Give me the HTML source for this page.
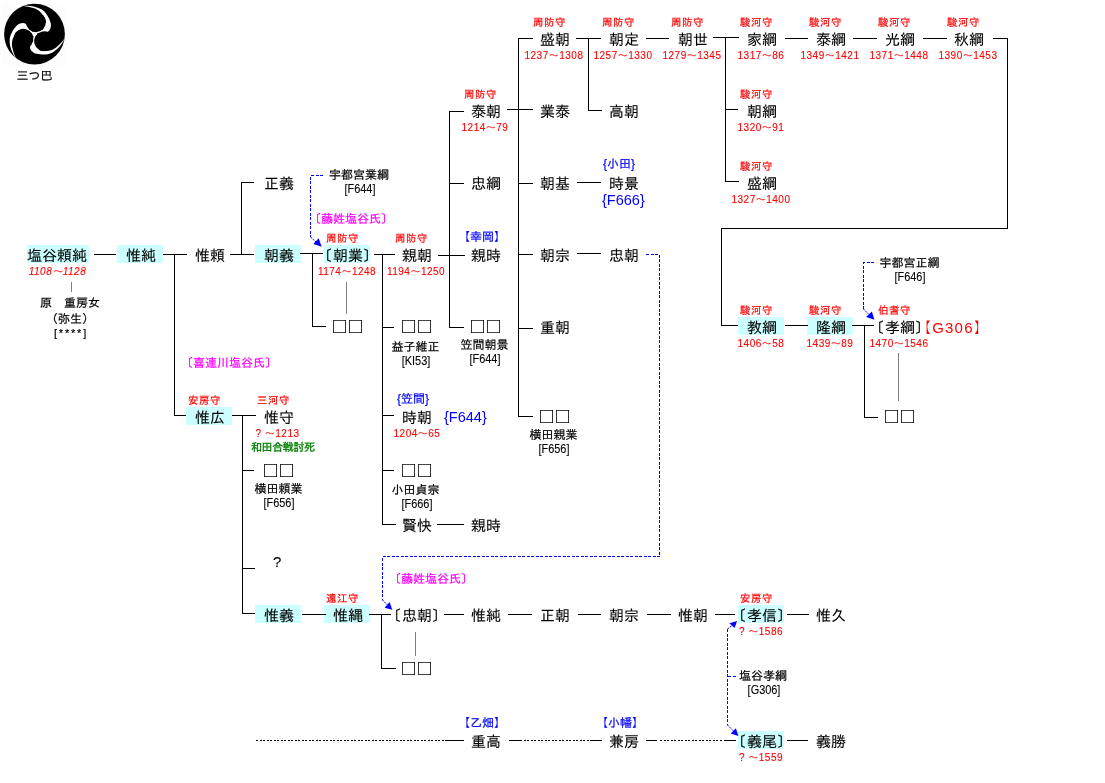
<!DOCTYPE html>
<html lang="ja"><head><meta charset="utf-8"><title>塩谷氏 系図</title>
<style>
html,body{margin:0;padding:0;background:#fff;}
body{width:1105px;height:783px;position:relative;overflow:hidden;font-family:"Liberation Sans","IPAGothic",sans-serif;}
#chart{position:absolute;left:0;top:0;width:1105px;height:783px;overflow:hidden;background:#fff;will-change:transform;}
.t{position:absolute;white-space:pre;color:#000;}
.c{width:200px;text-align:center;}
.s15{font-size:15px;line-height:15px;-webkit-text-stroke:0.1px currentColor;}
.s12{font-size:12px;line-height:12px;-webkit-text-stroke:0.2px currentColor;}
.s11{font-size:11px;line-height:11px;-webkit-text-stroke:0.2px currentColor;}
.s10{font-size:10px;line-height:11px;-webkit-text-stroke:0.1px currentColor;}
.d{letter-spacing:0.5px;}
.i{font-style:italic;}
.lb{font-size:10.4px;letter-spacing:0.6px;}
.gr{letter-spacing:-0.4px;-webkit-text-stroke:0.35px currentColor;}
.ast{letter-spacing:1.8px;}
.cd{font-size:13px;line-height:12px;transform:scaleX(0.84);-webkit-text-stroke:0.1px currentColor;}
.f{font-size:14.5px;-webkit-text-stroke:0;}
.g{letter-spacing:1.2px;-webkit-text-stroke:0;}
.bl{position:relative;left:-1px;}
.q{font-size:22px;line-height:22px;letter-spacing:2.7px;-webkit-text-stroke:0;}
.l{position:absolute;background:#000;}
.h{position:absolute;background:#cff;}
.k{position:absolute;height:0;border-top:1px dashed #000;}
.ov{position:absolute;left:0;top:0;}
</style></head>
<body>
<div id="chart">
<div class="h" style="left:27px;top:245px;width:62px;height:18px"></div>
<div class="h" style="left:117px;top:245px;width:46px;height:18px"></div>
<div class="h" style="left:255px;top:245px;width:46px;height:18px"></div>
<div class="h" style="left:324px;top:245px;width:46px;height:18px"></div>
<div class="h" style="left:738px;top:317px;width:46px;height:18px"></div>
<div class="h" style="left:807px;top:317px;width:46px;height:18px"></div>
<div class="h" style="left:186px;top:407px;width:46px;height:18px"></div>
<div class="h" style="left:255px;top:605px;width:46px;height:18px"></div>
<div class="h" style="left:324px;top:605px;width:46px;height:18px"></div>
<div class="h" style="left:738px;top:605px;width:46px;height:18px"></div>
<div class="h" style="left:738px;top:731px;width:46px;height:18px"></div>
<svg class="ov" style="left:3px;top:3px" width="64" height="64" viewBox="-31.5 -31.1 64 64">
<rect x="-31.5" y="-31.1" width="64" height="64" fill="#fdfdfd"/>
<circle cx="0" cy="0" r="30.4" fill="#000"/>
<g fill="#fff">
<circle cx="0" cy="0" r="2.6"/>
<path d="M-11.6 -28.2C-5 -29 2 -27.8 7.3 -24.5C11.2 -22 14.5 -16.6 16 -11.7C17 -8.4 16.2 -4.4 13.4 -2.4L0 0L8 -10L11.4 -11.9C11.4 -14.5 10.6 -16 9.4 -17.4C8 -19.6 6.7 -21.4 5.1 -22.8C3.3 -24.5 1 -25.5 -1.25 -26.2C-4.5 -27.2 -8 -27.9 -11.6 -28.2Z"/>
<path transform="rotate(120)" d="M-11.6 -28.2C-5 -29 2 -27.8 7.3 -24.5C11.2 -22 14.5 -16.6 16 -11.7C17 -8.4 16.2 -4.4 13.4 -2.4L0 0L8 -10L11.4 -11.9C11.4 -14.5 10.6 -16 9.4 -17.4C8 -19.6 6.7 -21.4 5.1 -22.8C3.3 -24.5 1 -25.5 -1.25 -26.2C-4.5 -27.2 -8 -27.9 -11.6 -28.2Z"/>
<path transform="rotate(240)" d="M-11.6 -28.2C-5 -29 2 -27.8 7.3 -24.5C11.2 -22 14.5 -16.6 16 -11.7C17 -8.4 16.2 -4.4 13.4 -2.4L0 0L8 -10L11.4 -11.9C11.4 -14.5 10.6 -16 9.4 -17.4C8 -19.6 6.7 -21.4 5.1 -22.8C3.3 -24.5 1 -25.5 -1.25 -26.2C-4.5 -27.2 -8 -27.9 -11.6 -28.2Z"/>
</g>
<g fill="#000">
<circle cx="1.45" cy="-11.8" r="9.9"/>
<circle cx="1.45" cy="-11.8" r="9.9" transform="rotate(120)"/>
<circle cx="1.45" cy="-11.8" r="9.9" transform="rotate(240)"/>
</g>
</svg>
<svg class="ov" width="1105" height="783" viewBox="0 0 1105 783">
<g fill="none" stroke="#000" stroke-width="1" stroke-dasharray="2 1.5" shape-rendering="crispEdges">
<path d="M256 740.5H447"/>
<path d="M520 740.5H590"/>
<path d="M660 740.5H722"/>
</g>
<g fill="none" stroke="#00f" stroke-width="1" stroke-dasharray="3 1.5" shape-rendering="crispEdges">
<path d="M323 175.5H310.5V237"/>
<path d="M874 262.5H863.5V309"/>
<path d="M646 254.5H659.5V556.5H382.5V600"/>
<path d="M727.5 629V725"/>
<path d="M728 676.5H736"/>
</g>
<g fill="none" stroke="#00f" stroke-width="1" stroke-dasharray="2 1">
<path d="M310.5 237L316 242"/>
<path d="M863.5 309L869 314.5"/>
<path d="M382.5 600L387.5 605"/>
<path d="M727.5 629L732 625.5"/>
<path d="M727.5 725L733.5 731"/>
</g>
<g fill="#00f">
<path d="M321.7 246.7L313.4 243.9L318.6 238.3Z"/>
<path d="M874.4 319.7L866.1 317.1L871.9 311.4Z"/>
<path d="M392.3 609.7L384.6 607.7L389.6 602.1Z"/>
<path d="M737.1 621.1L729.4 623.3L734.6 628Z"/>
<path d="M738.4 736L730.7 733.6L735.9 728.3Z"/>
</g>
</svg>
<div class="l" style="left:518px;top:38px;width:15px;height:1px;"></div>
<div class="l" style="left:576px;top:38px;width:25px;height:1px;"></div>
<div class="l" style="left:646px;top:38px;width:23px;height:1px;"></div>
<div class="l" style="left:713px;top:37px;width:26px;height:1px;"></div>
<div class="l" style="left:785px;top:38px;width:23px;height:1px;"></div>
<div class="l" style="left:853px;top:38px;width:24px;height:1px;"></div>
<div class="l" style="left:923px;top:38px;width:24px;height:1px;"></div>
<div class="l" style="left:993px;top:38px;width:15px;height:1px;"></div>
<div class="l" style="left:1007px;top:38px;width:1px;height:191px;"></div>
<div class="l" style="left:721px;top:228px;width:287px;height:1px;"></div>
<div class="l" style="left:721px;top:228px;width:1px;height:98px;"></div>
<div class="l" style="left:721px;top:325px;width:17px;height:1px;"></div>
<div class="l" style="left:449px;top:111px;width:15px;height:1px;"></div>
<div class="l" style="left:507px;top:109px;width:26px;height:1px;"></div>
<div class="l" style="left:588px;top:110px;width:14px;height:1px;"></div>
<div class="l" style="left:725px;top:109px;width:13px;height:1px;"></div>
<div class="l" style="left:241px;top:182px;width:13px;height:1px;"></div>
<div class="l" style="left:449px;top:183px;width:15px;height:1px;"></div>
<div class="l" style="left:518px;top:183px;width:15px;height:1px;"></div>
<div class="l" style="left:577px;top:182px;width:24px;height:1px;"></div>
<div class="l" style="left:725px;top:181px;width:14px;height:1px;"></div>
<div class="l" style="left:94px;top:254px;width:22px;height:1px;"></div>
<div class="l" style="left:163px;top:254px;width:24px;height:1px;"></div>
<div class="l" style="left:230px;top:254px;width:24px;height:1px;"></div>
<div class="l" style="left:300px;top:253px;width:23px;height:1px;"></div>
<div class="l" style="left:374px;top:254px;width:21px;height:1px;"></div>
<div class="l" style="left:438px;top:255px;width:27px;height:1px;"></div>
<div class="l" style="left:518px;top:254px;width:15px;height:1px;"></div>
<div class="l" style="left:577px;top:253px;width:24px;height:1px;"></div>
<div class="l" style="left:312px;top:326px;width:14px;height:1px;"></div>
<div class="l" style="left:382px;top:327px;width:12px;height:1px;"></div>
<div class="l" style="left:449px;top:327px;width:15px;height:1px;"></div>
<div class="l" style="left:518px;top:328px;width:15px;height:1px;"></div>
<div class="l" style="left:785px;top:325px;width:23px;height:1px;"></div>
<div class="l" style="left:852px;top:325px;width:22px;height:1px;"></div>
<div class="l" style="left:174px;top:415px;width:12px;height:1px;"></div>
<div class="l" style="left:232px;top:415px;width:24px;height:1px;"></div>
<div class="l" style="left:382px;top:415px;width:12px;height:1px;"></div>
<div class="l" style="left:518px;top:416px;width:15px;height:1px;"></div>
<div class="l" style="left:864px;top:417px;width:14px;height:1px;"></div>
<div class="l" style="left:242px;top:470px;width:12px;height:1px;"></div>
<div class="l" style="left:382px;top:470px;width:12px;height:1px;"></div>
<div class="l" style="left:382px;top:524px;width:14px;height:1px;"></div>
<div class="l" style="left:437px;top:524px;width:27px;height:1px;"></div>
<div class="l" style="left:242px;top:568px;width:13px;height:1px;"></div>
<div class="l" style="left:242px;top:613px;width:13px;height:1px;"></div>
<div class="l" style="left:302px;top:614px;width:24px;height:1px;"></div>
<div class="l" style="left:369px;top:614px;width:22px;height:1px;"></div>
<div class="l" style="left:444px;top:614px;width:20px;height:1px;"></div>
<div class="l" style="left:508px;top:614px;width:24px;height:1px;"></div>
<div class="l" style="left:578px;top:614px;width:23px;height:1px;"></div>
<div class="l" style="left:647px;top:614px;width:24px;height:1px;"></div>
<div class="l" style="left:715px;top:614px;width:20px;height:1px;"></div>
<div class="l" style="left:787px;top:614px;width:22px;height:1px;"></div>
<div class="l" style="left:381px;top:668px;width:15px;height:1px;"></div>
<div class="l" style="left:447px;top:740px;width:17px;height:1px;"></div>
<div class="l" style="left:509px;top:740px;width:11px;height:1px;"></div>
<div class="l" style="left:590px;top:740px;width:12px;height:1px;"></div>
<div class="l" style="left:646px;top:740px;width:11px;height:1px;"></div>
<div class="l" style="left:724px;top:740px;width:12px;height:1px;"></div>
<div class="l" style="left:787px;top:740px;width:21px;height:1px;"></div>
<div class="l" style="left:174px;top:254px;width:1px;height:162px;"></div>
<div class="l" style="left:241px;top:182px;width:1px;height:73px;"></div>
<div class="l" style="left:242px;top:415px;width:1px;height:199px;"></div>
<div class="l" style="left:312px;top:253px;width:1px;height:74px;"></div>
<div class="l" style="left:382px;top:254px;width:1px;height:271px;"></div>
<div class="l" style="left:449px;top:111px;width:1px;height:217px;"></div>
<div class="l" style="left:518px;top:38px;width:1px;height:379px;"></div>
<div class="l" style="left:588px;top:38px;width:1px;height:73px;"></div>
<div class="l" style="left:725px;top:37px;width:1px;height:145px;"></div>
<div class="l" style="left:864px;top:325px;width:1px;height:93px;"></div>
<div class="l" style="left:381px;top:614px;width:1px;height:55px;"></div>
<div class="l" style="left:71px;top:282px;width:1px;height:10px;background:#808080;"></div>
<div class="l" style="left:346px;top:282px;width:1px;height:32px;background:#808080;"></div>
<div class="l" style="left:898px;top:353px;width:1px;height:48px;background:#808080;"></div>
<div class="l" style="left:415px;top:632px;width:1px;height:24px;background:#808080;"></div>
<div class="t s15" style="left:540px;top:32.4px;">盛朝</div>
<div class="t s11 lb" style="left:533px;top:17.2px;color:#f00;">周防守</div>
<div class="t c s10 d" style="left:454px;top:49.6px;color:#f00;">1237～1308</div>
<div class="t s15" style="left:609px;top:32.4px;">朝定</div>
<div class="t s11 lb" style="left:602px;top:17.2px;color:#f00;">周防守</div>
<div class="t c s10 d" style="left:523px;top:49.6px;color:#f00;">1257～1330</div>
<div class="t s15" style="left:678px;top:32.4px;">朝世</div>
<div class="t s11 lb" style="left:671px;top:17.2px;color:#f00;">周防守</div>
<div class="t c s10 d" style="left:592px;top:49.6px;color:#f00;">1279～1345</div>
<div class="t s15" style="left:747px;top:32.4px;">家綱</div>
<div class="t s11 lb" style="left:740px;top:17.2px;color:#f00;">駿河守</div>
<div class="t c s10 d" style="left:661px;top:49.6px;color:#f00;">1317～86</div>
<div class="t s15" style="left:816px;top:32.4px;">泰綱</div>
<div class="t s11 lb" style="left:809px;top:17.2px;color:#f00;">駿河守</div>
<div class="t c s10 d" style="left:730px;top:49.6px;color:#f00;">1349～1421</div>
<div class="t s15" style="left:885px;top:32.4px;">光綱</div>
<div class="t s11 lb" style="left:878px;top:17.2px;color:#f00;">駿河守</div>
<div class="t c s10 d" style="left:799px;top:49.6px;color:#f00;">1371～1448</div>
<div class="t s15" style="left:954px;top:32.4px;">秋綱</div>
<div class="t s11 lb" style="left:947px;top:17.2px;color:#f00;">駿河守</div>
<div class="t c s10 d" style="left:868px;top:49.6px;color:#f00;">1390～1453</div>
<div class="t s15" style="left:471px;top:104.4px;">泰朝</div>
<div class="t s11 lb" style="left:464px;top:89.2px;color:#f00;">周防守</div>
<div class="t c s10 d" style="left:385px;top:121.6px;color:#f00;">1214～79</div>
<div class="t s15" style="left:540px;top:104.4px;">業泰</div>
<div class="t s15" style="left:609px;top:104.4px;">高朝</div>
<div class="t s15" style="left:747px;top:104.4px;">朝綱</div>
<div class="t s11 lb" style="left:740px;top:89.2px;color:#f00;">駿河守</div>
<div class="t c s10 d" style="left:661px;top:121.6px;color:#f00;">1320～91</div>
<div class="t s15" style="left:264px;top:176.4px;">正義</div>
<div class="t s15" style="left:471px;top:176.4px;">忠綱</div>
<div class="t s15" style="left:540px;top:176.4px;">朝基</div>
<div class="t s15" style="left:609px;top:176.4px;">時景</div>
<div class="t s12" style="left:603px;top:158px;color:#00f;">{小田}</div>
<div class="t s15 f" style="left:602px;top:192.5px;color:#00f;">{F666}</div>
<div class="t s15" style="left:747px;top:176.4px;">盛綱</div>
<div class="t s11 lb" style="left:740px;top:161.2px;color:#f00;">駿河守</div>
<div class="t c s10 d" style="left:661px;top:193.6px;color:#f00;">1327～1400</div>
<div class="t s12" style="left:329px;top:169px;">宇都宮業綱</div>
<div class="t c s12 cd" style="left:259.5px;top:183.4px;">[F644]</div>
<div class="t s12" style="left:309px;top:213px;color:#f0f;">〔藤姓塩谷氏〕</div>
<div class="t s15" style="left:27px;top:248.4px;">塩谷頼純</div>
<div class="t c s10 d i" style="left:-42.5px;top:265.8px;color:#f00;">1108～1128</div>
<div class="t s12" style="left:40px;top:297px;">原　重房女</div>
<div class="t c s12" style="left:-30px;top:312.5px;">（弥生）</div>
<div class="t c s11 ast" style="left:-29px;top:327.5px;">[****]</div>
<div class="t s15" style="left:126px;top:248.4px;">惟純</div>
<div class="t s15" style="left:195px;top:248.4px;">惟頼</div>
<div class="t s15" style="left:264px;top:248.4px;">朝義</div>
<div class="t s15 br" style="left:318px;top:248.4px;"><span class="bl">〔</span>朝業〕</div>
<div class="t s11 lb" style="left:326px;top:233.2px;color:#f00;">周防守</div>
<div class="t c s10 d" style="left:247px;top:265.6px;color:#f00;">1174～1248</div>
<div class="t s15" style="left:402px;top:248.4px;">親朝</div>
<div class="t s11 lb" style="left:395px;top:233.2px;color:#f00;">周防守</div>
<div class="t c s10 d" style="left:316px;top:265.6px;color:#f00;">1194～1250</div>
<div class="t s15" style="left:471px;top:248.4px;">親時</div>
<div class="t s12" style="left:458px;top:231px;color:#00f;">【幸岡】</div>
<div class="t s15" style="left:540px;top:248.4px;">朝宗</div>
<div class="t s15" style="left:609px;top:248.4px;">忠朝</div>
<div class="t s15 q" style="left:333px;top:315px;">□□</div>
<div class="t s15 q" style="left:402px;top:315px;">□□</div>
<div class="t c s12" style="left:315.5px;top:341px;">益子維正</div>
<div class="t c s12 cd" style="left:316px;top:354.9px;">[KI53]</div>
<div class="t s15 q" style="left:471px;top:315px;">□□</div>
<div class="t c s12" style="left:384.5px;top:339px;">笠間朝景</div>
<div class="t c s12 cd" style="left:385.3px;top:352.9px;">[F644]</div>
<div class="t s15" style="left:540px;top:320.4px;">重朝</div>
<div class="t s15" style="left:747px;top:320.4px;">教綱</div>
<div class="t s11 lb" style="left:740px;top:305.2px;color:#f00;">駿河守</div>
<div class="t c s10 d" style="left:661px;top:337.6px;color:#f00;">1406～58</div>
<div class="t s15" style="left:816px;top:320.4px;">隆綱</div>
<div class="t s11 lb" style="left:809px;top:305.2px;color:#f00;">駿河守</div>
<div class="t c s10 d" style="left:730px;top:337.6px;color:#f00;">1439～89</div>
<div class="t s15 br" style="left:870px;top:320.4px;"><span class="bl">〔</span>孝綱〕</div>
<div class="t s11 lb" style="left:878px;top:305.2px;color:#f00;">伯耆守</div>
<div class="t c s10 d" style="left:799px;top:337.6px;color:#f00;">1470～1546</div>
<div class="t s15 g" style="left:916px;top:320.4px;color:#f00;">【G306】</div>
<div class="t s12" style="left:879.5px;top:257px;">宇都宮正綱</div>
<div class="t c s12 cd" style="left:810.2px;top:271.1px;">[F646]</div>
<div class="t s15" style="left:195px;top:410.4px;">惟広</div>
<div class="t s11 lb" style="left:188px;top:395.2px;color:#f00;">安房守</div>
<div class="t s15" style="left:264px;top:410.4px;">惟守</div>
<div class="t s11 lb" style="left:257px;top:395.2px;color:#f00;">三河守</div>
<div class="t c s10 d" style="left:177.5px;top:427.6px;color:#f00;">? ～1213</div>
<div class="t s11 gr" style="left:251px;top:441.6px;color:#008000;">和田合戦討死</div>
<div class="t s12" style="left:181px;top:357px;color:#f0f;">〔喜連川塩谷氏〕</div>
<div class="t s15" style="left:402px;top:410.4px;">時朝</div>
<div class="t s12" style="left:397px;top:393px;color:#00f;">{笠間}</div>
<div class="t c s10 d" style="left:317px;top:427.6px;color:#f00;">1204～65</div>
<div class="t s15 f" style="left:444px;top:409.5px;color:#00f;">{F644}</div>
<div class="t s15 q" style="left:540px;top:405px;">□□</div>
<div class="t c s12" style="left:453.5px;top:429px;">横田親業</div>
<div class="t c s12 cd" style="left:454.2px;top:442.8px;">[F656]</div>
<div class="t s15 q" style="left:885px;top:405px;">□□</div>
<div class="t s15 q" style="left:264px;top:459px;">□□</div>
<div class="t c s12" style="left:178.5px;top:483px;">横田頼業</div>
<div class="t c s12 cd" style="left:179.2px;top:496.9px;">[F656]</div>
<div class="t s15 q" style="left:402px;top:459px;">□□</div>
<div class="t c s12" style="left:315.5px;top:484px;">小田貞宗</div>
<div class="t c s12 cd" style="left:316.7px;top:497.8px;">[F666]</div>
<div class="t s15" style="left:402px;top:518.4px;">賢快</div>
<div class="t s15" style="left:471px;top:518.4px;">親時</div>
<div class="t s15" style="left:273px;top:554px;">?</div>
<div class="t s15" style="left:264px;top:608.4px;">惟義</div>
<div class="t s15" style="left:333px;top:608.4px;">惟縄</div>
<div class="t s11 lb" style="left:326px;top:593.2px;color:#f00;">遠江守</div>
<div class="t s15 br" style="left:387px;top:608.4px;"><span class="bl">〔</span>忠朝〕</div>
<div class="t s15" style="left:471px;top:608.4px;">惟純</div>
<div class="t s15" style="left:540px;top:608.4px;">正朝</div>
<div class="t s15" style="left:609px;top:608.4px;">朝宗</div>
<div class="t s15" style="left:678px;top:608.4px;">惟朝</div>
<div class="t s15 br" style="left:732px;top:608.4px;"><span class="bl">〔</span>孝信〕</div>
<div class="t s11 lb" style="left:740px;top:593.2px;color:#f00;">安房守</div>
<div class="t c s10 d" style="left:661px;top:625.6px;color:#f00;">? ～1586</div>
<div class="t s15" style="left:816px;top:608.4px;">惟久</div>
<div class="t s12" style="left:389px;top:573px;color:#f0f;">〔藤姓塩谷氏〕</div>
<div class="t s15 q" style="left:402px;top:657px;">□□</div>
<div class="t s15" style="left:471px;top:734.4px;">重高</div>
<div class="t s12" style="left:458px;top:717px;color:#00f;">【乙畑】</div>
<div class="t s15" style="left:609px;top:734.4px;">兼房</div>
<div class="t s12" style="left:596px;top:717px;color:#00f;">【小幡】</div>
<div class="t s15 br" style="left:732px;top:734.4px;"><span class="bl">〔</span>義尾〕</div>
<div class="t c s10 d" style="left:661px;top:751.6px;color:#f00;">? ～1559</div>
<div class="t s15" style="left:816px;top:734.4px;">義勝</div>
<div class="t s12" style="left:739px;top:670px;">塩谷孝綱</div>
<div class="t c s12 cd" style="left:664.3px;top:684.2px;">[G306]</div>
<div class="t s12" style="left:16.5px;top:70.2px;">三つ巴</div>
</div>
</body></html>
